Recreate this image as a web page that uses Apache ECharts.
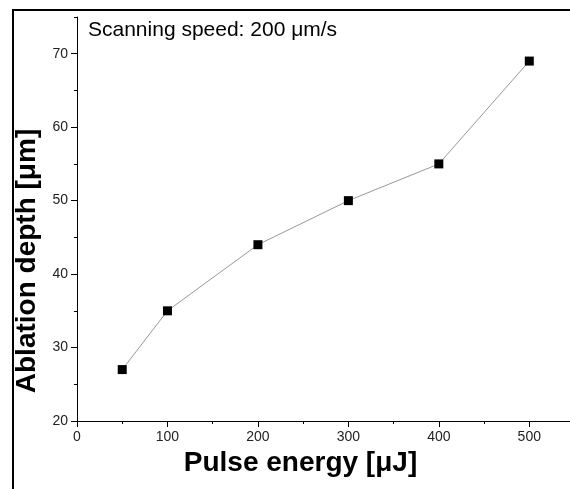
<!DOCTYPE html>
<html>
<head>
<meta charset="utf-8">
<script src="https://cdn.jsdelivr.net/npm/echarts@6/dist/echarts.min.js"></script>
<style>
html, body { margin: 0; padding: 0; background: #fff; }
#chart { width: 570px; height: 489px; }
</style>
</head>
<body>
<div id="chart"></div>
<script>
// data
var pulseEnergy = [50, 100, 200, 300, 400, 500];
var ablationDepth = [27, 35, 44, 50, 55, 69];
// tick positions
var xMajorTicks = [0, 100, 200, 300, 400, 500];
var xMinorTicks = [50, 150, 250, 350, 450];
var yMajorTicks = [20, 30, 40, 50, 60, 70];
var yMinorTicks = [25, 35, 45, 55, 65, 75];

var font = 'Liberation Sans, Arial, sans-serif';

var points = pulseEnergy.map(function (x, i) {
	return [x, ablationDepth[i]];
});

var myChart = echarts.init(document.getElementById('chart'));
var option = {
	animation: false,
	backgroundColor: '#fff',
	title: {
		text: 'Scanning speed: 200 μm/s',
		left: 83,
		top: 15,
		textStyle: {
			fontFamily: font,
			fontSize: 21,
			fontWeight: 'normal',
			color: '#000'
		}
	},
	graphic: [{
		// outer frame, cut off at right and bottom like the source
		type: 'rect',
		shape: { x: 13, y: 10, width: 620, height: 520 },
		style: { fill: 'none', stroke: '#000', lineWidth: 2 },
		silent: true
	}],
	grid: {
		left: 77,
		right: 0,
		top: 17,
		bottom: 68
	},
	xAxis: [{
		type: 'value',
		position: 'bottom',
		min: 0,
		max: 545,
		name: 'Pulse energy [μJ]',
		nameLocation: 'middle',
		nameGap: 26,
		nameTextStyle: {
			fontFamily: font,
			fontSize: 28,
			fontWeight: 'bold',
			color: '#000',
			padding: [0, 46, 0, 0]
		},
		axisLine: { lineStyle: { color: '#000', width: 1 } },
		axisTick: { customValues: xMajorTicks, length: 6, lineStyle: { color: '#000' } },
		axisLabel: {
			customValues: xMajorTicks,
			margin: 9,
			fontFamily: font,
			fontSize: 14,
			color: '#222'
		},
		splitLine: { show: false }
	}, {
		type: 'value',
		position: 'bottom',
		min: 0,
		max: 545,
		axisLine: { show: false },
		axisTick: { customValues: xMinorTicks, length: 3, lineStyle: { color: '#000' } },
		axisLabel: { show: false },
		splitLine: { show: false }
	}],
	yAxis: [{
		type: 'value',
		position: 'left',
		min: 20,
		max: 75,
		name: 'Ablation depth [μm]',
		nameLocation: 'middle',
		nameGap: 33,
		nameTextStyle: {
			fontFamily: font,
			fontSize: 28,
			fontWeight: 'bold',
			color: '#000',
			padding: [0, 84, 0, 0]
		},
		axisLine: { show: true, lineStyle: { color: '#000', width: 1 } },
		axisTick: { show: true, customValues: yMajorTicks, length: 6, lineStyle: { color: '#000' } },
		axisLabel: {
			customValues: yMajorTicks,
			margin: 9,
			fontFamily: font,
			fontSize: 14,
			color: '#222'
		},
		splitLine: { show: false }
	}, {
		type: 'value',
		position: 'left',
		min: 20,
		max: 75,
		axisLine: { show: false },
		axisTick: { show: true, customValues: yMinorTicks, length: 3, lineStyle: { color: '#000' } },
		axisLabel: { show: false },
		splitLine: { show: false }
	}],
	series: [{
		type: 'line',
		xAxisIndex: 0,
		yAxisIndex: 0,
		data: points,
		symbol: 'rect',
		symbolSize: 9,
		itemStyle: { color: '#000' },
		lineStyle: { color: '#999', width: 1 }
	}]
};
myChart.setOption(option);
</script>
</body>
</html>
